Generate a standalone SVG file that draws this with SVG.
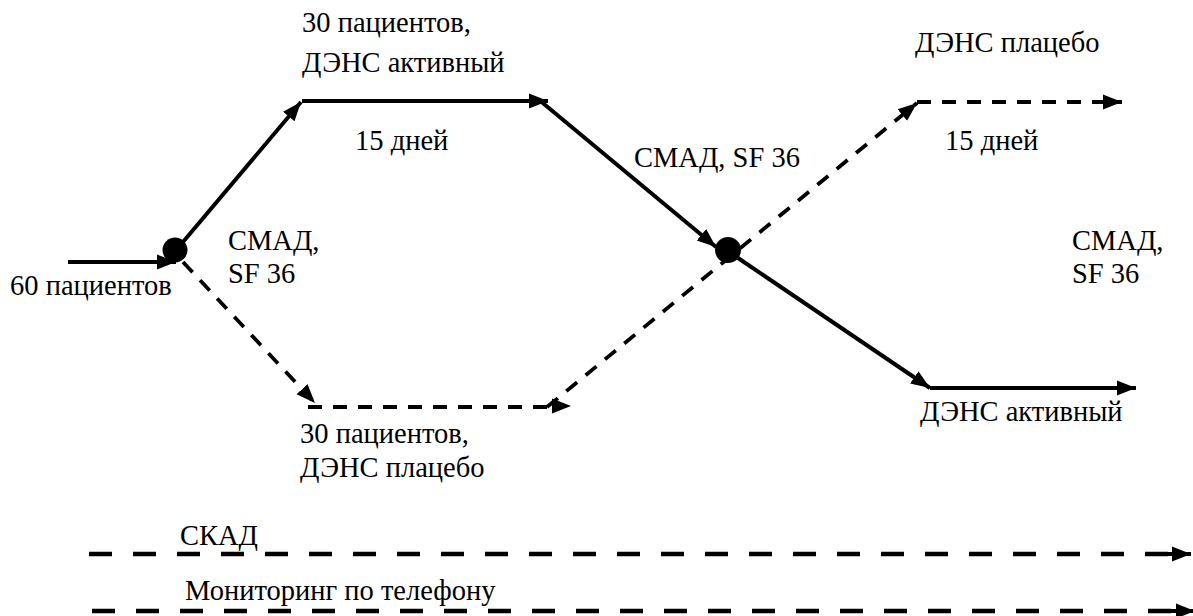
<svg xmlns="http://www.w3.org/2000/svg" width="1193" height="616" viewBox="0 0 1193 616" font-family="Liberation Serif, Tinos, DejaVu Serif, serif">
  <style>
    text { font-family: 'Liberation Serif', Tinos, 'DejaVu Serif', serif; font-size: 28.5px; fill: #000; }
    .solid { stroke: #000; stroke-width: 4; fill: none; }
    .dash { stroke: #000; stroke-width: 3.8; fill: none; stroke-dasharray: 14 11; }
    .longdash { stroke: #000; stroke-width: 4.5; fill: none; stroke-dasharray: 23 21; }
    .dot { fill: #000; }
  </style>
  <defs>
    <marker id="arrow" markerUnits="userSpaceOnUse" markerWidth="22" markerHeight="18" refX="19" refY="9" orient="auto">
      <path d="M0,1.5 L19,9 L0,16.5 Z" fill="#000"/>
    </marker>
  </defs>
  <rect width="1193" height="616" fill="#fff"/>

  <g id="connectors">
    <!-- entry -->
    <line class="solid" x1="68" y1="262" x2="176" y2="262" marker-end="url(#arrow)"/>
    <!-- active branch -->
    <line class="solid" x1="183" y1="242" x2="301" y2="102" marker-end="url(#arrow)"/>
    <line class="solid" x1="302" y1="101" x2="548" y2="101" marker-end="url(#arrow)"/>
    <line class="solid" x1="538" y1="99" x2="716" y2="247" marker-end="url(#arrow)"/>
    <line class="solid" x1="738" y1="258" x2="930" y2="388" marker-end="url(#arrow)"/>
    <line class="solid" x1="930" y1="388" x2="1136" y2="388" marker-end="url(#arrow)"/>
    <!-- placebo branch -->
    <line class="dash" x1="183" y1="262" x2="315" y2="403" marker-end="url(#arrow)"/>
    <line class="dash" x1="308" y1="407" x2="548" y2="407"/>
    <path d="M550,406 L571,406" stroke="none" marker-end="url(#arrow)"/>
    <line class="dash" x1="547" y1="407" x2="917" y2="103" marker-end="url(#arrow)"/>
    <line class="dash" x1="917" y1="102" x2="1122" y2="102" marker-end="url(#arrow)"/>
    <!-- timelines -->
    <line class="longdash" x1="89" y1="554" x2="1172" y2="554"/>
    <line class="solid" x1="1150" y1="554" x2="1191" y2="554" stroke-width="4.5" marker-end="url(#arrow)"/>
    <line class="longdash" x1="92" y1="611" x2="1172" y2="611"/>
    <line class="solid" x1="1150" y1="611" x2="1195" y2="611" stroke-width="4.5" marker-end="url(#arrow)"/>
  </g>

  <g id="node-start">
    <circle class="dot" cx="175" cy="250" r="12.5"/>
    <text x="10" y="295">60 пациентов</text>
    <text x="228" y="250">СМАД,</text>
    <text x="228" y="283">SF 36</text>
  </g>

  <g id="node-active-1">
    <text x="302" y="32">30 пациентов,</text>
    <text x="302" y="72">ДЭНС активный</text>
    <text x="355" y="150">15 дней</text>
  </g>

  <g id="node-placebo-1">
    <text x="300" y="443">30 пациентов,</text>
    <text x="300" y="477">ДЭНС плацебо</text>
  </g>

  <g id="node-cross">
    <circle class="dot" cx="728" cy="250" r="13"/>
    <text x="634" y="167">СМАД, SF 36</text>
  </g>

  <g id="node-placebo-2">
    <text x="915" y="52">ДЭНС плацебо</text>
    <text x="945" y="150">15 дней</text>
  </g>

  <g id="node-end">
    <text x="1072" y="250">СМАД,</text>
    <text x="1072" y="283">SF 36</text>
  </g>

  <g id="node-active-2">
    <text x="920" y="421">ДЭНС активный</text>
  </g>

  <g id="timeline-labels">
    <text x="180" y="545">СКАД</text>
    <text x="185" y="600">Мониторинг по телефону</text>
  </g>
</svg>
